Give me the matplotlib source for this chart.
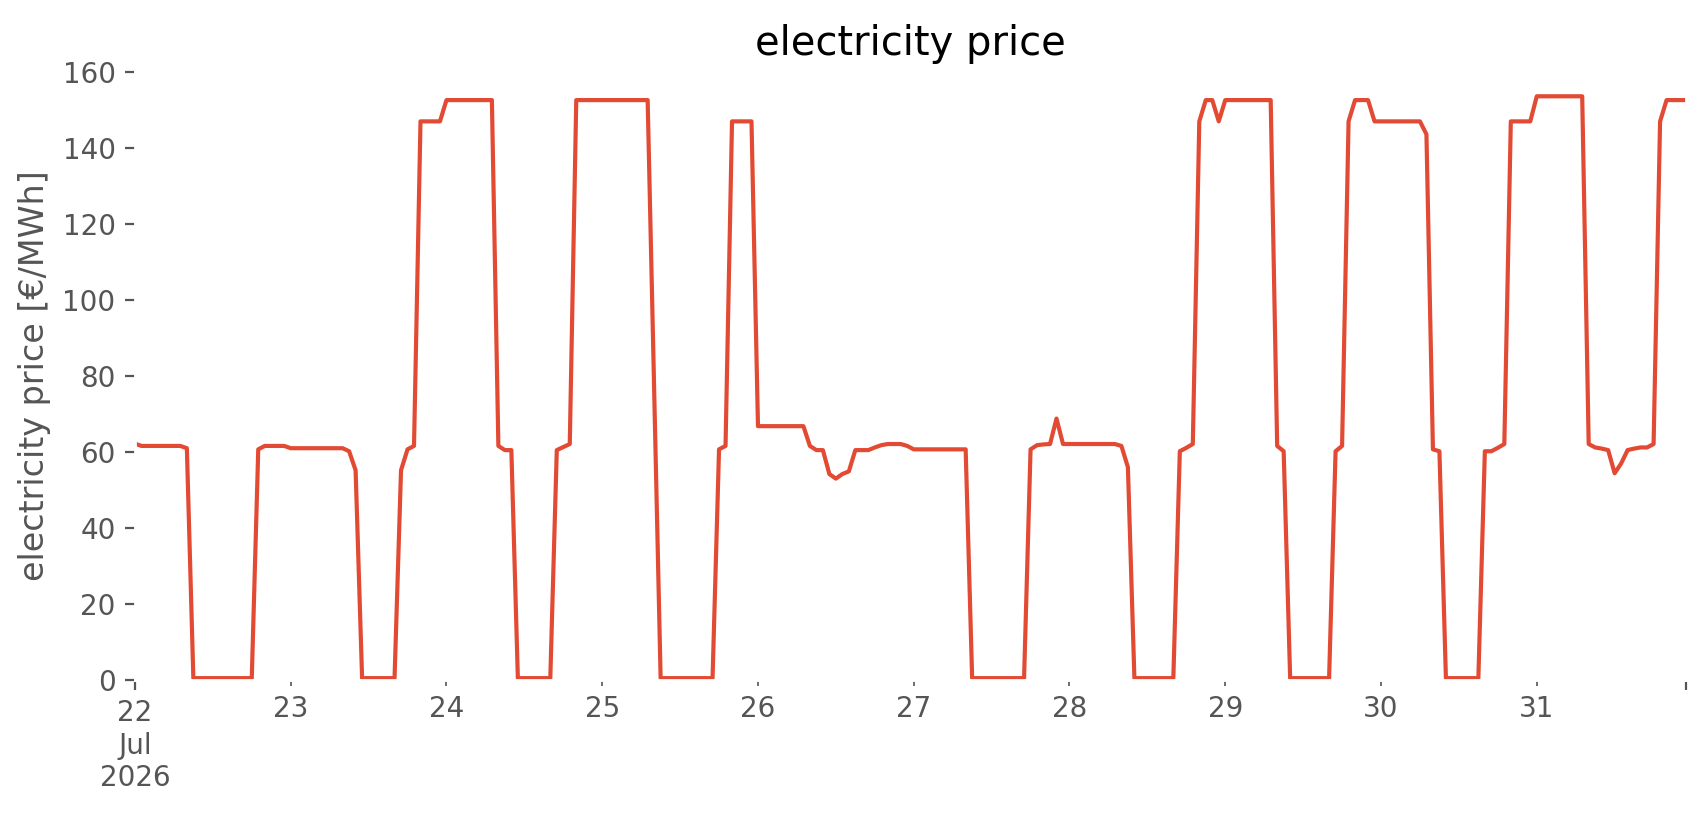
import matplotlib
matplotlib.use("Agg")
import matplotlib.pyplot as plt
import numpy as np
import pandas as pd

# hourly electricity price, one list per day (Jul 22 .. Jul 31 2026)
jul22 = [62.2, 61.6, 61.6, 61.6, 61.6, 61.6, 61.6, 61.6, 61.0, 0.5, 0.5, 0.5,
         0.5, 0.5, 0.5, 0.5, 0.5, 0.5, 0.5, 60.7, 61.6, 61.6, 61.6, 61.6]
jul23 = [61.0, 61.0, 61.0, 61.0, 61.0, 61.0, 61.0, 61.0, 61.0, 60.2, 55.2, 0.5,
         0.5, 0.5, 0.5, 0.5, 0.5, 55.2, 60.7, 61.6, 147.0, 147.0, 147.0, 147.0]
jul24 = [152.6, 152.6, 152.6, 152.6, 152.6, 152.6, 152.6, 152.6, 61.6, 60.5, 60.5, 0.5,
         0.5, 0.5, 0.5, 0.5, 0.5, 60.5, 61.3, 62.1, 152.6, 152.6, 152.6, 152.6]
jul25 = [152.6, 152.6, 152.6, 152.6, 152.6, 152.6, 152.6, 152.6, 76.5, 0.5, 0.5, 0.5,
         0.5, 0.5, 0.5, 0.5, 0.5, 0.5, 60.7, 61.6, 147.0, 147.0, 147.0, 147.0]
jul26 = [66.8, 66.8, 66.8, 66.8, 66.8, 66.8, 66.8, 66.8, 61.6, 60.5, 60.5, 54.2,
         53.0, 54.2, 54.9, 60.5, 60.5, 60.5, 61.2, 61.8, 62.1, 62.1, 62.1, 61.6]
jul27 = [60.7, 60.7, 60.7, 60.7, 60.7, 60.7, 60.7, 60.7, 60.7, 0.5, 0.5, 0.5,
         0.5, 0.5, 0.5, 0.5, 0.5, 0.5, 60.7, 61.8, 62.0, 62.1, 68.8, 62.1]
jul28 = [62.1, 62.1, 62.1, 62.1, 62.1, 62.1, 62.1, 62.1, 61.6, 56.0, 0.5, 0.5,
         0.5, 0.5, 0.5, 0.5, 0.5, 60.2, 61.1, 62.1, 147.0, 152.6, 152.6, 147.0]
jul29 = [152.6, 152.6, 152.6, 152.6, 152.6, 152.6, 152.6, 152.6, 61.6, 60.2, 0.5, 0.5,
         0.5, 0.5, 0.5, 0.5, 0.5, 60.2, 61.6, 147.0, 152.6, 152.6, 152.6, 147.0]
jul30 = [147.0, 147.0, 147.0, 147.0, 147.0, 147.0, 147.0, 143.6, 60.7, 60.2, 0.5, 0.5,
         0.5, 0.5, 0.5, 0.5, 60.2, 60.2, 61.1, 62.1, 147.0, 147.0, 147.0, 147.0]
jul31 = [153.6, 153.6, 153.6, 153.6, 153.6, 153.6, 153.6, 153.6, 62.1, 61.2, 60.9, 60.5,
         54.4, 57.0, 60.5, 60.9, 61.2, 61.2, 62.1, 147.0, 152.6, 152.6, 152.6, 152.6]

price = np.concatenate([jul22, jul23, jul24, jul25, jul26, jul27, jul28, jul29, jul30, jul31])
times = pd.date_range("2026-07-22 00:00", periods=len(price), freq="h")
series = pd.Series(price, index=times)

plt.style.use("ggplot")

fig, ax = plt.subplots(figsize=(1706 / 200, 815 / 200), dpi=200)
fig.subplots_adjust(left=0.0791, right=0.9883, bottom=0.1656, top=0.9117)
ax.set_facecolor("white")

series.plot(ax=ax, color="#E24A33", linewidth=1.5)
ax.set_ylim(0, 160)
ax.grid(False)
ax.set_title("electricity price")
ax.set_ylabel("electricity price [€/MWh]")
ax.set_xlabel("")

fig.savefig("out.png", dpi=200, facecolor="white")
